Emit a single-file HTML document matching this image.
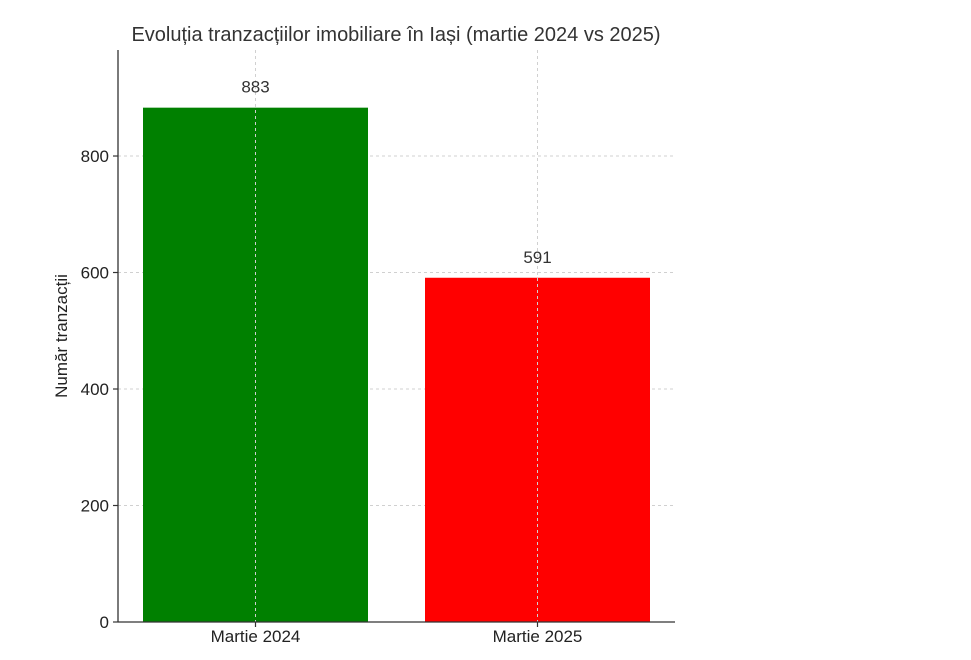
<!DOCTYPE html>
<html><head><meta charset="utf-8"><style>
body{margin:0;background:#fff;}
svg{display:block;font-family:"Liberation Sans","DejaVu Sans",sans-serif;}
</style></head><body>
<svg id="chart" width="971" height="660" viewBox="0 0 971 660">
<text x="396" y="41" text-anchor="middle" font-size="20" fill="#333">Evoluția tranzacțiilor imobiliare în Iași (martie 2024 vs 2025)</text>
<text transform="translate(67,336) rotate(-90)" text-anchor="middle" font-size="17" fill="#222">Număr tranzacții</text>
<g id="grid"></g><g id="bars"></g><g id="axes"></g>
</svg>
<script>
const categories = ["Martie 2024", "Martie 2025"];
const values = [883, 591];
const colors = ["#008000", "#ff0000"];
const yTicks = [0, 200, 400, 600, 800];
const NS = "http://www.w3.org/2000/svg";
const L = 118, R = 675, B = 622, T = 50;
const yMax = 982;
const y = v => B - (B - T) * v / yMax;
const step = 282, x0 = 255.5;
const x = i => x0 + i * step;
const bw = 225;
function mk(tag, attrs, parent) { const e = document.createElementNS(NS, tag); for (const k in attrs) e.setAttribute(k, attrs[k]); parent.appendChild(e); return e; }
const grid = document.getElementById('grid'), bars = document.getElementById('bars'), axes = document.getElementById('axes');
yTicks.forEach(t => {
  if (t > 0) {
    const g = mk('line', {x1: L, x2: R, y1: y(t), y2: y(t), stroke: '#d0d0d0', 'stroke-dasharray': '3,3', 'stroke-width': 1}, grid);
    
    
  }
  const tk = mk('line', {x1: L - 5, x2: L, y1: y(t), y2: y(t), stroke: '#333', 'stroke-width': 1.2}, axes);
  
  
  const lb = mk('text', {x: L - 9, y: y(t) + 6, 'text-anchor': 'end', 'font-size': 17, fill: '#222'}, axes);
  lb.textContent = t;
  
  
});
categories.forEach((c, i) => {
  const r = mk('rect', {x: x(i) - bw / 2, y: y(values[i]), width: bw, height: B - y(values[i]), fill: colors[i]}, bars);
  
  
  const g = mk('line', {x1: x(i), x2: x(i), y1: T, y2: B, stroke: '#d0d0d0', 'stroke-dasharray': '3,3', 'stroke-width': 1}, bars);
  
  
  const v = mk('text', {x: x(i), y: y(values[i]) - 15, 'text-anchor': 'middle', 'font-size': 17, fill: '#333'}, bars);
  v.textContent = values[i];
  
  
  const tk = mk('line', {x1: x(i), x2: x(i), y1: B, y2: B + 5, stroke: '#333', 'stroke-width': 1.2}, axes);
  
  
  const lb = mk('text', {x: x(i), y: B + 20, 'text-anchor': 'middle', 'font-size': 17, fill: '#222'}, axes);
  lb.textContent = c;
  
  
});
const ya = mk('line', {x1: L, x2: L, y1: T, y2: B, stroke: '#333', 'stroke-width': 1.3}, axes);


const xa = mk('line', {x1: L, x2: R, y1: B, y2: B, stroke: '#333', 'stroke-width': 1.3}, axes);


</script>
</body></html>
